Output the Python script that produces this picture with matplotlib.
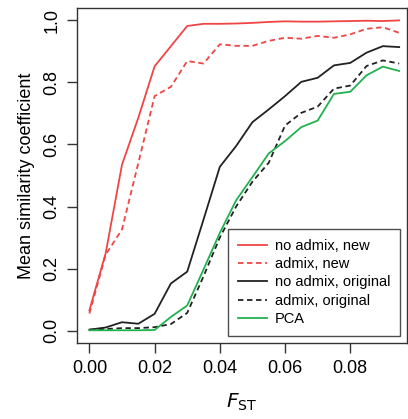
import numpy as np
import matplotlib
matplotlib.use('Agg')
import matplotlib.pyplot as plt

plt.rcParams['font.family'] = ['Liberation Sans', 'DejaVu Sans']

fst = [0.000, 0.005, 0.010, 0.015, 0.020, 0.025, 0.030, 0.035, 0.040, 0.045,
       0.050, 0.055, 0.060, 0.065, 0.070, 0.075, 0.080, 0.085, 0.090, 0.095]

no_admix_new = [0.065, 0.25, 0.535, 0.686, 0.852, 0.917, 0.982, 0.989, 0.989, 0.990,
                0.992, 0.995, 0.997, 0.996, 0.996, 0.997, 0.998, 0.999, 0.998, 1.000]
admix_new = [0.055, 0.245, 0.326, 0.54, 0.756, 0.786, 0.869, 0.861, 0.923, 0.918,
             0.918, 0.934, 0.944, 0.941, 0.950, 0.944, 0.955, 0.973, 0.978, 0.960]
no_admix_orig = [0.003, 0.010, 0.027, 0.022, 0.054, 0.152, 0.190, 0.358, 0.528, 0.595,
                 0.672, 0.713, 0.756, 0.802, 0.815, 0.855, 0.863, 0.896, 0.917, 0.914]
admix_orig = [0.003, 0.005, 0.008, 0.008, 0.011, 0.021, 0.057, 0.175, 0.300, 0.400,
              0.480, 0.541, 0.661, 0.702, 0.722, 0.780, 0.790, 0.853, 0.871, 0.861]
pca = [0.001, 0.001, 0.001, 0.001, 0.002, 0.044, 0.081, 0.197, 0.315, 0.420,
       0.495, 0.571, 0.611, 0.656, 0.677, 0.763, 0.770, 0.823, 0.851, 0.837]

red = '#F04545'
green = '#20B24E'
black = '#222222'

fig = plt.figure(figsize=(4.08, 4.19), dpi=100)
ax = fig.add_axes([77 / 408, 1 - 343 / 419, 330 / 408, 335 / 419])

lw = 1.3
ax.plot(fst, no_admix_new, color=red, lw=lw, label='no admix, new')
ax.plot(fst, admix_new, color=red, lw=lw, ls=(0, (3, 2)), label='admix, new')
ax.plot(fst, no_admix_orig, color=black, lw=lw, label='no admix, original')
ax.plot(fst, admix_orig, color=black, lw=lw, ls=(0, (3, 2)), label='admix, original')
ax.plot(fst, pca, color=green, lw=lw, label='PCA')

ax.set_xlim(-0.0038, 0.0974)
ax.set_ylim(-0.04, 1.04)
ax.set_xticks([0.00, 0.02, 0.04, 0.06, 0.08])
ax.set_xticklabels(['0.00', '0.02', '0.04', '0.06', '0.08'])
ax.set_yticks([0.0, 0.2, 0.4, 0.6, 0.8, 1.0])
ax.set_yticklabels(['0.0', '0.2', '0.4', '0.6', '0.8', '1.0'], rotation=90, va='center')

for s in ax.spines.values():
    s.set_color('#333333')
    s.set_linewidth(1.0)
ax.tick_params(direction='out', length=7, width=1.0, color='#333333',
               labelsize=13, pad=5)

ax.set_xlabel(r'$F_{\mathrm{ST}}$', fontsize=14.5, labelpad=11)
ax.set_ylabel('Mean similarity coefficient', fontsize=13, labelpad=6)

leg = ax.legend(loc='lower right', fontsize=10.5, frameon=True, fancybox=False,
                edgecolor='#222222', handlelength=2.0, handletextpad=0.5,
                labelspacing=0.3, borderpad=0.7, borderaxespad=0.45)
leg.get_frame().set_linewidth(1.0)

fig.savefig('out.png', dpi=100)
